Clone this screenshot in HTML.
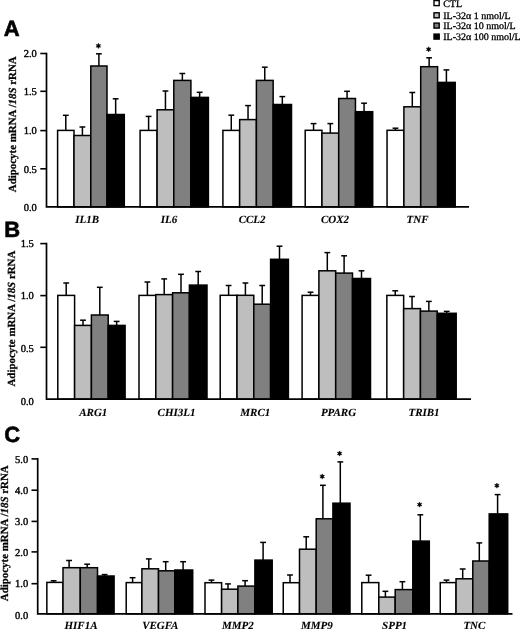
<!DOCTYPE html>
<html><head><meta charset="utf-8"><title>Figure</title>
<style>
html,body{margin:0;padding:0;background:#fff;}
body{width:520px;height:629px;overflow:hidden;}
svg{display:block;will-change:transform;text-rendering:geometricPrecision;}
.tk{font-family:"Liberation Serif",serif;font-size:10.5px;text-anchor:end;fill:#000;stroke:#000;stroke-width:0.4px;}
.xl{font-family:"Liberation Serif",serif;font-size:11px;font-weight:bold;font-style:italic;text-anchor:middle;fill:#000;stroke:#000;stroke-width:0.1px;}
.yt{font-family:"Liberation Serif",serif;font-size:10.9px;font-weight:bold;text-anchor:middle;fill:#000;stroke:#000;stroke-width:0.25px;}
.lg{font-family:"Liberation Serif",serif;font-size:10px;fill:#000;stroke:#000;stroke-width:0.3px;}
.pl{font-family:"Liberation Sans",sans-serif;font-size:22px;font-weight:bold;fill:#000;stroke:#000;stroke-width:0.6px;}
.star{font-family:"Liberation Serif",serif;font-size:11px;font-weight:bold;text-anchor:middle;fill:#000;}
</style></head>
<body>
<svg width="520" height="629" viewBox="0 0 520 629">
<line x1="65.8" y1="115.3" x2="65.8" y2="130.4" stroke="#000" stroke-width="1.5"/>
<line x1="62.9" y1="115.3" x2="68.7" y2="115.3" stroke="#000" stroke-width="1.5"/>
<rect x="57.6" y="130.4" width="16.4" height="76.5" fill="#ffffff" stroke="#000" stroke-width="1.5"/>
<line x1="82.4" y1="127" x2="82.4" y2="135.5" stroke="#000" stroke-width="1.5"/>
<line x1="79.5" y1="127" x2="85.3" y2="127" stroke="#000" stroke-width="1.5"/>
<rect x="74" y="135.5" width="16.8" height="71.4" fill="#bebebe" stroke="#000" stroke-width="1.5"/>
<line x1="98.9" y1="53.8" x2="98.9" y2="66" stroke="#000" stroke-width="1.5"/>
<line x1="96" y1="53.8" x2="101.8" y2="53.8" stroke="#000" stroke-width="1.5"/>
<rect x="90.8" y="66" width="16.2" height="140.9" fill="#808080" stroke="#000" stroke-width="1.5"/>
<line x1="115.65" y1="98.8" x2="115.65" y2="114.5" stroke="#000" stroke-width="1.5"/>
<line x1="112.75" y1="98.8" x2="118.55" y2="98.8" stroke="#000" stroke-width="1.5"/>
<rect x="107" y="114.5" width="17.3" height="92.4" fill="#000000" stroke="#000" stroke-width="1.5"/>
<line x1="148.6" y1="116.4" x2="148.6" y2="130.4" stroke="#000" stroke-width="1.5"/>
<line x1="145.7" y1="116.4" x2="151.5" y2="116.4" stroke="#000" stroke-width="1.5"/>
<rect x="140.1" y="130.4" width="17" height="76.5" fill="#ffffff" stroke="#000" stroke-width="1.5"/>
<line x1="165.45" y1="91" x2="165.45" y2="109.8" stroke="#000" stroke-width="1.5"/>
<line x1="162.55" y1="91" x2="168.35" y2="91" stroke="#000" stroke-width="1.5"/>
<rect x="157.1" y="109.8" width="16.7" height="97.1" fill="#bebebe" stroke="#000" stroke-width="1.5"/>
<line x1="182.35" y1="73.5" x2="182.35" y2="80.4" stroke="#000" stroke-width="1.5"/>
<line x1="179.45" y1="73.5" x2="185.25" y2="73.5" stroke="#000" stroke-width="1.5"/>
<rect x="173.8" y="80.4" width="17.1" height="126.5" fill="#808080" stroke="#000" stroke-width="1.5"/>
<line x1="199.65" y1="92.3" x2="199.65" y2="97.4" stroke="#000" stroke-width="1.5"/>
<line x1="196.75" y1="92.3" x2="202.55" y2="92.3" stroke="#000" stroke-width="1.5"/>
<rect x="190.9" y="97.4" width="17.5" height="109.5" fill="#000000" stroke="#000" stroke-width="1.5"/>
<line x1="231.28" y1="115.2" x2="231.28" y2="130.4" stroke="#000" stroke-width="1.5"/>
<line x1="228.38" y1="115.2" x2="234.18" y2="115.2" stroke="#000" stroke-width="1.5"/>
<rect x="222.9" y="130.4" width="16.75" height="76.5" fill="#ffffff" stroke="#000" stroke-width="1.5"/>
<line x1="248.03" y1="105.6" x2="248.03" y2="119.6" stroke="#000" stroke-width="1.5"/>
<line x1="245.12" y1="105.6" x2="250.93" y2="105.6" stroke="#000" stroke-width="1.5"/>
<rect x="239.65" y="119.6" width="16.75" height="87.3" fill="#bebebe" stroke="#000" stroke-width="1.5"/>
<line x1="264.77" y1="67.2" x2="264.77" y2="80.4" stroke="#000" stroke-width="1.5"/>
<line x1="261.88" y1="67.2" x2="267.67" y2="67.2" stroke="#000" stroke-width="1.5"/>
<rect x="256.4" y="80.4" width="16.75" height="126.5" fill="#808080" stroke="#000" stroke-width="1.5"/>
<line x1="282.32" y1="96.6" x2="282.32" y2="104.5" stroke="#000" stroke-width="1.5"/>
<line x1="279.43" y1="96.6" x2="285.22" y2="96.6" stroke="#000" stroke-width="1.5"/>
<rect x="273.15" y="104.5" width="18.35" height="102.4" fill="#000000" stroke="#000" stroke-width="1.5"/>
<line x1="313.57" y1="123.6" x2="313.57" y2="130.3" stroke="#000" stroke-width="1.5"/>
<line x1="310.68" y1="123.6" x2="316.47" y2="123.6" stroke="#000" stroke-width="1.5"/>
<rect x="305.2" y="130.3" width="16.75" height="76.6" fill="#ffffff" stroke="#000" stroke-width="1.5"/>
<line x1="330.32" y1="123.6" x2="330.32" y2="133.1" stroke="#000" stroke-width="1.5"/>
<line x1="327.43" y1="123.6" x2="333.22" y2="123.6" stroke="#000" stroke-width="1.5"/>
<rect x="321.95" y="133.1" width="16.75" height="73.8" fill="#bebebe" stroke="#000" stroke-width="1.5"/>
<line x1="347.07" y1="91.3" x2="347.07" y2="98.5" stroke="#000" stroke-width="1.5"/>
<line x1="344.18" y1="91.3" x2="349.97" y2="91.3" stroke="#000" stroke-width="1.5"/>
<rect x="338.7" y="98.5" width="16.75" height="108.4" fill="#808080" stroke="#000" stroke-width="1.5"/>
<line x1="364.07" y1="103.2" x2="364.07" y2="111.7" stroke="#000" stroke-width="1.5"/>
<line x1="361.18" y1="103.2" x2="366.97" y2="103.2" stroke="#000" stroke-width="1.5"/>
<rect x="355.45" y="111.7" width="17.25" height="95.2" fill="#000000" stroke="#000" stroke-width="1.5"/>
<line x1="395.48" y1="128.2" x2="395.48" y2="130.3" stroke="#000" stroke-width="1.5"/>
<line x1="392.58" y1="128.2" x2="398.38" y2="128.2" stroke="#000" stroke-width="1.5"/>
<rect x="387.05" y="130.3" width="16.85" height="76.6" fill="#ffffff" stroke="#000" stroke-width="1.5"/>
<line x1="412.3" y1="92.5" x2="412.3" y2="106.8" stroke="#000" stroke-width="1.5"/>
<line x1="409.4" y1="92.5" x2="415.2" y2="92.5" stroke="#000" stroke-width="1.5"/>
<rect x="403.9" y="106.8" width="16.8" height="100.1" fill="#bebebe" stroke="#000" stroke-width="1.5"/>
<line x1="429.15" y1="57.8" x2="429.15" y2="66.7" stroke="#000" stroke-width="1.5"/>
<line x1="426.25" y1="57.8" x2="432.05" y2="57.8" stroke="#000" stroke-width="1.5"/>
<rect x="420.7" y="66.7" width="16.9" height="140.2" fill="#808080" stroke="#000" stroke-width="1.5"/>
<line x1="446.4" y1="69.9" x2="446.4" y2="82.4" stroke="#000" stroke-width="1.5"/>
<line x1="443.5" y1="69.9" x2="449.3" y2="69.9" stroke="#000" stroke-width="1.5"/>
<rect x="437.6" y="82.4" width="17.6" height="124.5" fill="#000000" stroke="#000" stroke-width="1.5"/>
<polygon points="98.4,43.3 97.75,44.77 96.15,44.6 97.1,45.9 96.15,47.2 97.75,47.03 98.4,48.5 99.05,47.03 100.65,47.2 99.7,45.9 100.65,44.6 99.05,44.77" fill="#000" stroke="#000" stroke-width="0.5" stroke-linejoin="round"/>
<polygon points="428.65,46.7 428,48.17 426.4,48 427.35,49.3 426.4,50.6 428,50.43 428.65,51.9 429.3,50.43 430.9,50.6 429.95,49.3 430.9,48 429.3,48.17" fill="#000" stroke="#000" stroke-width="0.5" stroke-linejoin="round"/>
<path d="M46.5 52.7V206.9H469" fill="none" stroke="#000" stroke-width="1.7"/>
<line x1="40.3" y1="53.5" x2="46.5" y2="53.5" stroke="#000" stroke-width="1.6"/>
<text x="36.8" y="56.8" class="tk">2.0</text>
<line x1="40.3" y1="91.3" x2="46.5" y2="91.3" stroke="#000" stroke-width="1.6"/>
<text x="36.8" y="95.4" class="tk">1.5</text>
<line x1="40.3" y1="130.6" x2="46.5" y2="130.6" stroke="#000" stroke-width="1.6"/>
<text x="36.8" y="134.4" class="tk">1.0</text>
<line x1="40.3" y1="168.8" x2="46.5" y2="168.8" stroke="#000" stroke-width="1.6"/>
<text x="36.8" y="172.9" class="tk">0.5</text>
<text x="36.8" y="211" class="tk">0.0</text>
<text x="87.1" y="223.3" class="xl">IL1B</text>
<text x="169" y="223.3" class="xl">IL6</text>
<text x="252.1" y="223.3" class="xl">CCL2</text>
<text x="335" y="223.3" class="xl">COX2</text>
<text x="417.5" y="223.3" class="xl">TNF</text>
<text transform="translate(15.6 124.3) rotate(-90)" class="yt">Adipocyte mRNA /<tspan font-style="italic">18S</tspan> rRNA</text>
<text x="3.7" y="35.6" class="pl">A</text>
<line x1="66.2" y1="283" x2="66.2" y2="295.4" stroke="#000" stroke-width="1.5"/>
<line x1="63.3" y1="283" x2="69.1" y2="283" stroke="#000" stroke-width="1.5"/>
<rect x="57.8" y="295.4" width="16.8" height="103.8" fill="#ffffff" stroke="#000" stroke-width="1.5"/>
<line x1="83" y1="320.2" x2="83" y2="325.4" stroke="#000" stroke-width="1.5"/>
<line x1="80.1" y1="320.2" x2="85.9" y2="320.2" stroke="#000" stroke-width="1.5"/>
<rect x="74.6" y="325.4" width="16.8" height="73.8" fill="#bebebe" stroke="#000" stroke-width="1.5"/>
<line x1="99.8" y1="287.3" x2="99.8" y2="315" stroke="#000" stroke-width="1.5"/>
<line x1="96.9" y1="287.3" x2="102.7" y2="287.3" stroke="#000" stroke-width="1.5"/>
<rect x="91.4" y="315" width="16.8" height="84.2" fill="#808080" stroke="#000" stroke-width="1.5"/>
<line x1="116.65" y1="321.4" x2="116.65" y2="325.4" stroke="#000" stroke-width="1.5"/>
<line x1="113.75" y1="321.4" x2="119.55" y2="321.4" stroke="#000" stroke-width="1.5"/>
<rect x="108.2" y="325.4" width="16.9" height="73.8" fill="#000000" stroke="#000" stroke-width="1.5"/>
<line x1="147.4" y1="282" x2="147.4" y2="295.4" stroke="#000" stroke-width="1.5"/>
<line x1="144.5" y1="282" x2="150.3" y2="282" stroke="#000" stroke-width="1.5"/>
<rect x="139" y="295.4" width="16.8" height="103.8" fill="#ffffff" stroke="#000" stroke-width="1.5"/>
<line x1="164.2" y1="278.9" x2="164.2" y2="294.6" stroke="#000" stroke-width="1.5"/>
<line x1="161.3" y1="278.9" x2="167.1" y2="278.9" stroke="#000" stroke-width="1.5"/>
<rect x="155.8" y="294.6" width="16.8" height="104.6" fill="#bebebe" stroke="#000" stroke-width="1.5"/>
<line x1="181" y1="274.3" x2="181" y2="292.8" stroke="#000" stroke-width="1.5"/>
<line x1="178.1" y1="274.3" x2="183.9" y2="274.3" stroke="#000" stroke-width="1.5"/>
<rect x="172.6" y="292.8" width="16.8" height="106.4" fill="#808080" stroke="#000" stroke-width="1.5"/>
<line x1="198.2" y1="271.5" x2="198.2" y2="285.1" stroke="#000" stroke-width="1.5"/>
<line x1="195.3" y1="271.5" x2="201.1" y2="271.5" stroke="#000" stroke-width="1.5"/>
<rect x="189.4" y="285.1" width="17.6" height="114.1" fill="#000000" stroke="#000" stroke-width="1.5"/>
<line x1="228.6" y1="285.5" x2="228.6" y2="295.3" stroke="#000" stroke-width="1.5"/>
<line x1="225.7" y1="285.5" x2="231.5" y2="285.5" stroke="#000" stroke-width="1.5"/>
<rect x="220.2" y="295.3" width="16.8" height="103.9" fill="#ffffff" stroke="#000" stroke-width="1.5"/>
<line x1="245.4" y1="283" x2="245.4" y2="295.3" stroke="#000" stroke-width="1.5"/>
<line x1="242.5" y1="283" x2="248.3" y2="283" stroke="#000" stroke-width="1.5"/>
<rect x="237" y="295.3" width="16.8" height="103.9" fill="#bebebe" stroke="#000" stroke-width="1.5"/>
<line x1="262.2" y1="285.5" x2="262.2" y2="304.2" stroke="#000" stroke-width="1.5"/>
<line x1="259.3" y1="285.5" x2="265.1" y2="285.5" stroke="#000" stroke-width="1.5"/>
<rect x="253.8" y="304.2" width="16.8" height="95" fill="#808080" stroke="#000" stroke-width="1.5"/>
<line x1="279.5" y1="246.2" x2="279.5" y2="259.3" stroke="#000" stroke-width="1.5"/>
<line x1="276.6" y1="246.2" x2="282.4" y2="246.2" stroke="#000" stroke-width="1.5"/>
<rect x="270.6" y="259.3" width="17.8" height="139.9" fill="#000000" stroke="#000" stroke-width="1.5"/>
<line x1="310.5" y1="292.2" x2="310.5" y2="295.4" stroke="#000" stroke-width="1.5"/>
<line x1="307.6" y1="292.2" x2="313.4" y2="292.2" stroke="#000" stroke-width="1.5"/>
<rect x="302.1" y="295.4" width="16.8" height="103.8" fill="#ffffff" stroke="#000" stroke-width="1.5"/>
<line x1="327.3" y1="252.6" x2="327.3" y2="270.8" stroke="#000" stroke-width="1.5"/>
<line x1="324.4" y1="252.6" x2="330.2" y2="252.6" stroke="#000" stroke-width="1.5"/>
<rect x="318.9" y="270.8" width="16.8" height="128.4" fill="#bebebe" stroke="#000" stroke-width="1.5"/>
<line x1="344.1" y1="255.8" x2="344.1" y2="273.1" stroke="#000" stroke-width="1.5"/>
<line x1="341.2" y1="255.8" x2="347" y2="255.8" stroke="#000" stroke-width="1.5"/>
<rect x="335.7" y="273.1" width="16.8" height="126.1" fill="#808080" stroke="#000" stroke-width="1.5"/>
<line x1="361.5" y1="270.8" x2="361.5" y2="278.5" stroke="#000" stroke-width="1.5"/>
<line x1="358.6" y1="270.8" x2="364.4" y2="270.8" stroke="#000" stroke-width="1.5"/>
<rect x="352.5" y="278.5" width="18" height="120.7" fill="#000000" stroke="#000" stroke-width="1.5"/>
<line x1="395.25" y1="290.8" x2="395.25" y2="295.4" stroke="#000" stroke-width="1.5"/>
<line x1="392.35" y1="290.8" x2="398.15" y2="290.8" stroke="#000" stroke-width="1.5"/>
<rect x="386.85" y="295.4" width="16.8" height="103.8" fill="#ffffff" stroke="#000" stroke-width="1.5"/>
<line x1="412.05" y1="296.5" x2="412.05" y2="308.6" stroke="#000" stroke-width="1.5"/>
<line x1="409.15" y1="296.5" x2="414.95" y2="296.5" stroke="#000" stroke-width="1.5"/>
<rect x="403.65" y="308.6" width="16.8" height="90.6" fill="#bebebe" stroke="#000" stroke-width="1.5"/>
<line x1="428.85" y1="301.4" x2="428.85" y2="311.1" stroke="#000" stroke-width="1.5"/>
<line x1="425.95" y1="301.4" x2="431.75" y2="301.4" stroke="#000" stroke-width="1.5"/>
<rect x="420.45" y="311.1" width="16.8" height="88.1" fill="#808080" stroke="#000" stroke-width="1.5"/>
<line x1="446.73" y1="311.4" x2="446.73" y2="313.3" stroke="#000" stroke-width="1.5"/>
<line x1="443.83" y1="311.4" x2="449.62" y2="311.4" stroke="#000" stroke-width="1.5"/>
<rect x="437.25" y="313.3" width="18.95" height="85.9" fill="#000000" stroke="#000" stroke-width="1.5"/>
<path d="M46.5 242.8V399.2H471" fill="none" stroke="#000" stroke-width="1.7"/>
<line x1="40.3" y1="243.6" x2="46.5" y2="243.6" stroke="#000" stroke-width="1.6"/>
<text x="33.8" y="247.1" class="tk">1.5</text>
<line x1="40.3" y1="295.6" x2="46.5" y2="295.6" stroke="#000" stroke-width="1.6"/>
<text x="33.8" y="299.3" class="tk">1.0</text>
<line x1="40.3" y1="347.3" x2="46.5" y2="347.3" stroke="#000" stroke-width="1.6"/>
<text x="33.8" y="352.2" class="tk">0.5</text>
<text x="33.8" y="404.6" class="tk">0.0</text>
<text x="93.3" y="415.8" class="xl">ARG1</text>
<text x="176.5" y="415.8" class="xl">CHI3L1</text>
<text x="255.3" y="415.8" class="xl">MRC1</text>
<text x="338.5" y="415.8" class="xl">PPARG</text>
<text x="424" y="415.8" class="xl">TRIB1</text>
<text transform="translate(15.4 318.6) rotate(-90)" class="yt">Adipocyte mRNA /<tspan font-style="italic">18S</tspan> rRNA</text>
<text x="4.2" y="236.7" class="pl">B</text>
<line x1="53.6" y1="580.8" x2="53.6" y2="582.4" stroke="#000" stroke-width="1.5"/>
<line x1="50.7" y1="580.8" x2="56.5" y2="580.8" stroke="#000" stroke-width="1.5"/>
<rect x="46.85" y="582.4" width="16.15" height="31.4" fill="#ffffff" stroke="#000" stroke-width="1.5"/>
<line x1="69.1" y1="560.5" x2="69.1" y2="567.7" stroke="#000" stroke-width="1.5"/>
<line x1="66.2" y1="560.5" x2="72" y2="560.5" stroke="#000" stroke-width="1.5"/>
<rect x="63" y="567.7" width="17.3" height="46.1" fill="#bebebe" stroke="#000" stroke-width="1.5"/>
<line x1="87.2" y1="564.2" x2="87.2" y2="567.7" stroke="#000" stroke-width="1.5"/>
<line x1="84.3" y1="564.2" x2="90.1" y2="564.2" stroke="#000" stroke-width="1.5"/>
<rect x="80.3" y="567.7" width="17.2" height="46.1" fill="#808080" stroke="#000" stroke-width="1.5"/>
<line x1="104.6" y1="574.6" x2="104.6" y2="576" stroke="#000" stroke-width="1.5"/>
<line x1="101.7" y1="574.6" x2="107.5" y2="574.6" stroke="#000" stroke-width="1.5"/>
<rect x="97.5" y="576" width="16.6" height="37.8" fill="#000000" stroke="#000" stroke-width="1.5"/>
<line x1="132.6" y1="577.7" x2="132.6" y2="582.6" stroke="#000" stroke-width="1.5"/>
<line x1="129.7" y1="577.7" x2="135.5" y2="577.7" stroke="#000" stroke-width="1.5"/>
<rect x="126.2" y="582.6" width="15.7" height="31.2" fill="#ffffff" stroke="#000" stroke-width="1.5"/>
<line x1="148.8" y1="558.9" x2="148.8" y2="568.8" stroke="#000" stroke-width="1.5"/>
<line x1="145.9" y1="558.9" x2="151.7" y2="558.9" stroke="#000" stroke-width="1.5"/>
<rect x="141.9" y="568.8" width="16.6" height="45" fill="#bebebe" stroke="#000" stroke-width="1.5"/>
<line x1="165.7" y1="561.7" x2="165.7" y2="570.8" stroke="#000" stroke-width="1.5"/>
<line x1="162.8" y1="561.7" x2="168.6" y2="561.7" stroke="#000" stroke-width="1.5"/>
<rect x="158.5" y="570.8" width="16.3" height="43" fill="#808080" stroke="#000" stroke-width="1.5"/>
<line x1="183.1" y1="561.7" x2="183.1" y2="570" stroke="#000" stroke-width="1.5"/>
<line x1="180.2" y1="561.7" x2="186" y2="561.7" stroke="#000" stroke-width="1.5"/>
<rect x="174.8" y="570" width="17.9" height="43.8" fill="#000000" stroke="#000" stroke-width="1.5"/>
<line x1="211.5" y1="580.1" x2="211.5" y2="582.7" stroke="#000" stroke-width="1.5"/>
<line x1="208.6" y1="580.1" x2="214.4" y2="580.1" stroke="#000" stroke-width="1.5"/>
<rect x="205" y="582.7" width="16.6" height="31.1" fill="#ffffff" stroke="#000" stroke-width="1.5"/>
<line x1="228" y1="583.9" x2="228" y2="589.2" stroke="#000" stroke-width="1.5"/>
<line x1="225.1" y1="583.9" x2="230.9" y2="583.9" stroke="#000" stroke-width="1.5"/>
<rect x="221.6" y="589.2" width="16.3" height="24.6" fill="#bebebe" stroke="#000" stroke-width="1.5"/>
<line x1="245.1" y1="580.7" x2="245.1" y2="586.1" stroke="#000" stroke-width="1.5"/>
<line x1="242.2" y1="580.7" x2="248" y2="580.7" stroke="#000" stroke-width="1.5"/>
<rect x="237.9" y="586.1" width="17" height="27.7" fill="#808080" stroke="#000" stroke-width="1.5"/>
<line x1="263.1" y1="542.4" x2="263.1" y2="560.1" stroke="#000" stroke-width="1.5"/>
<line x1="260.2" y1="542.4" x2="266" y2="542.4" stroke="#000" stroke-width="1.5"/>
<rect x="254.9" y="560.1" width="17.3" height="53.7" fill="#000000" stroke="#000" stroke-width="1.5"/>
<line x1="290" y1="575" x2="290" y2="582.7" stroke="#000" stroke-width="1.5"/>
<line x1="287.1" y1="575" x2="292.9" y2="575" stroke="#000" stroke-width="1.5"/>
<rect x="283.25" y="582.7" width="16.25" height="31.1" fill="#ffffff" stroke="#000" stroke-width="1.5"/>
<line x1="306.2" y1="536.8" x2="306.2" y2="549.2" stroke="#000" stroke-width="1.5"/>
<line x1="303.3" y1="536.8" x2="309.1" y2="536.8" stroke="#000" stroke-width="1.5"/>
<rect x="299.5" y="549.2" width="16.7" height="64.6" fill="#bebebe" stroke="#000" stroke-width="1.5"/>
<line x1="322.9" y1="485.3" x2="322.9" y2="518.8" stroke="#000" stroke-width="1.5"/>
<line x1="320" y1="485.3" x2="325.8" y2="485.3" stroke="#000" stroke-width="1.5"/>
<rect x="316.2" y="518.8" width="16.7" height="95" fill="#808080" stroke="#000" stroke-width="1.5"/>
<line x1="340.3" y1="461.9" x2="340.3" y2="503.2" stroke="#000" stroke-width="1.5"/>
<line x1="337.4" y1="461.9" x2="343.2" y2="461.9" stroke="#000" stroke-width="1.5"/>
<rect x="332.9" y="503.2" width="17.1" height="110.6" fill="#000000" stroke="#000" stroke-width="1.5"/>
<line x1="368.6" y1="575.2" x2="368.6" y2="582.6" stroke="#000" stroke-width="1.5"/>
<line x1="365.7" y1="575.2" x2="371.5" y2="575.2" stroke="#000" stroke-width="1.5"/>
<rect x="361.8" y="582.6" width="17" height="31.2" fill="#ffffff" stroke="#000" stroke-width="1.5"/>
<line x1="385.4" y1="591.3" x2="385.4" y2="597.1" stroke="#000" stroke-width="1.5"/>
<line x1="382.5" y1="591.3" x2="388.3" y2="591.3" stroke="#000" stroke-width="1.5"/>
<rect x="378.8" y="597.1" width="16.4" height="16.7" fill="#bebebe" stroke="#000" stroke-width="1.5"/>
<line x1="402.4" y1="581.7" x2="402.4" y2="589.6" stroke="#000" stroke-width="1.5"/>
<line x1="399.5" y1="581.7" x2="405.3" y2="581.7" stroke="#000" stroke-width="1.5"/>
<rect x="395.2" y="589.6" width="17.6" height="24.2" fill="#808080" stroke="#000" stroke-width="1.5"/>
<line x1="420.3" y1="514.8" x2="420.3" y2="541.1" stroke="#000" stroke-width="1.5"/>
<line x1="417.4" y1="514.8" x2="423.2" y2="514.8" stroke="#000" stroke-width="1.5"/>
<rect x="412.8" y="541.1" width="16.5" height="72.7" fill="#000000" stroke="#000" stroke-width="1.5"/>
<line x1="446.5" y1="580.1" x2="446.5" y2="582.6" stroke="#000" stroke-width="1.5"/>
<line x1="443.6" y1="580.1" x2="449.4" y2="580.1" stroke="#000" stroke-width="1.5"/>
<rect x="440.25" y="582.6" width="15.8" height="31.2" fill="#ffffff" stroke="#000" stroke-width="1.5"/>
<line x1="462.7" y1="569" x2="462.7" y2="578.8" stroke="#000" stroke-width="1.5"/>
<line x1="459.8" y1="569" x2="465.6" y2="569" stroke="#000" stroke-width="1.5"/>
<rect x="456.05" y="578.8" width="16.75" height="35" fill="#bebebe" stroke="#000" stroke-width="1.5"/>
<line x1="479.3" y1="542.9" x2="479.3" y2="561" stroke="#000" stroke-width="1.5"/>
<line x1="476.4" y1="542.9" x2="482.2" y2="542.9" stroke="#000" stroke-width="1.5"/>
<rect x="472.8" y="561" width="16.4" height="52.8" fill="#808080" stroke="#000" stroke-width="1.5"/>
<line x1="497.6" y1="494.6" x2="497.6" y2="513.9" stroke="#000" stroke-width="1.5"/>
<line x1="494.7" y1="494.6" x2="500.5" y2="494.6" stroke="#000" stroke-width="1.5"/>
<rect x="489.2" y="513.9" width="18.5" height="99.9" fill="#000000" stroke="#000" stroke-width="1.5"/>
<polygon points="322.2,473.9 321.55,475.37 319.95,475.2 320.9,476.5 319.95,477.8 321.55,477.63 322.2,479.1 322.85,477.63 324.45,477.8 323.5,476.5 324.45,475.2 322.85,475.37" fill="#000" stroke="#000" stroke-width="0.5" stroke-linejoin="round"/>
<polygon points="339.6,450.9 338.95,452.37 337.35,452.2 338.3,453.5 337.35,454.8 338.95,454.63 339.6,456.1 340.25,454.63 341.85,454.8 340.9,453.5 341.85,452.2 340.25,452.37" fill="#000" stroke="#000" stroke-width="0.5" stroke-linejoin="round"/>
<polygon points="419.6,502 418.95,503.47 417.35,503.3 418.3,504.6 417.35,505.9 418.95,505.73 419.6,507.2 420.25,505.73 421.85,505.9 420.9,504.6 421.85,503.3 420.25,503.47" fill="#000" stroke="#000" stroke-width="0.5" stroke-linejoin="round"/>
<polygon points="496.9,483 496.25,484.47 494.65,484.3 495.6,485.6 494.65,486.9 496.25,486.73 496.9,488.2 497.55,486.73 499.15,486.9 498.2,485.6 499.15,484.3 497.55,484.47" fill="#000" stroke="#000" stroke-width="0.5" stroke-linejoin="round"/>
<path d="M37.7 458.1V613.8H512.5" fill="none" stroke="#000" stroke-width="1.7"/>
<line x1="31.5" y1="458.9" x2="37.7" y2="458.9" stroke="#000" stroke-width="1.6"/>
<text x="28.2" y="463" class="tk">5.0</text>
<line x1="31.5" y1="490.2" x2="37.7" y2="490.2" stroke="#000" stroke-width="1.6"/>
<text x="28.2" y="494.3" class="tk">4.0</text>
<line x1="31.5" y1="521.4" x2="37.7" y2="521.4" stroke="#000" stroke-width="1.6"/>
<text x="28.2" y="525" class="tk">3.0</text>
<line x1="31.5" y1="551.9" x2="37.7" y2="551.9" stroke="#000" stroke-width="1.6"/>
<text x="28.2" y="556" class="tk">2.0</text>
<line x1="31.5" y1="583.7" x2="37.7" y2="583.7" stroke="#000" stroke-width="1.6"/>
<text x="28.2" y="587.2" class="tk">1.0</text>
<text x="28.2" y="618.6" class="tk">0.0</text>
<text x="81" y="628.8" class="xl">HIF1A</text>
<text x="160.3" y="628.8" class="xl">VEGFA</text>
<text x="237.8" y="628.8" class="xl">MMP2</text>
<text x="316.9" y="628.8" class="xl">MMP9</text>
<text x="394.6" y="628.8" class="xl">SPP1</text>
<text x="474.4" y="628.8" class="xl">TNC</text>
<text transform="translate(7.5 533.25) rotate(-90)" class="yt">Adipocyte mRNA /<tspan font-style="italic">18S</tspan> rRNA</text>
<text x="4.3" y="442" class="pl">C</text>
<rect x="434" y="0.6" width="5.2" height="5" fill="#ffffff" stroke="#000" stroke-width="1.4"/>
<text x="443.2" y="6.5" class="lg">CTL</text>
<rect x="434" y="12.8" width="5.2" height="5" fill="#bebebe" stroke="#000" stroke-width="1.4"/>
<text x="443.2" y="18.5" class="lg">IL-32α 1 nmol/L</text>
<rect x="434" y="23.1" width="5.2" height="5" fill="#808080" stroke="#000" stroke-width="1.4"/>
<text x="443.2" y="29.1" class="lg">IL-32α 10 nmol/L</text>
<rect x="434" y="34.1" width="5.2" height="5" fill="#000000" stroke="#000" stroke-width="1.4"/>
<text x="443.2" y="40.3" class="lg">IL-32α 100 nmol/L</text>
</svg>
</body></html>
